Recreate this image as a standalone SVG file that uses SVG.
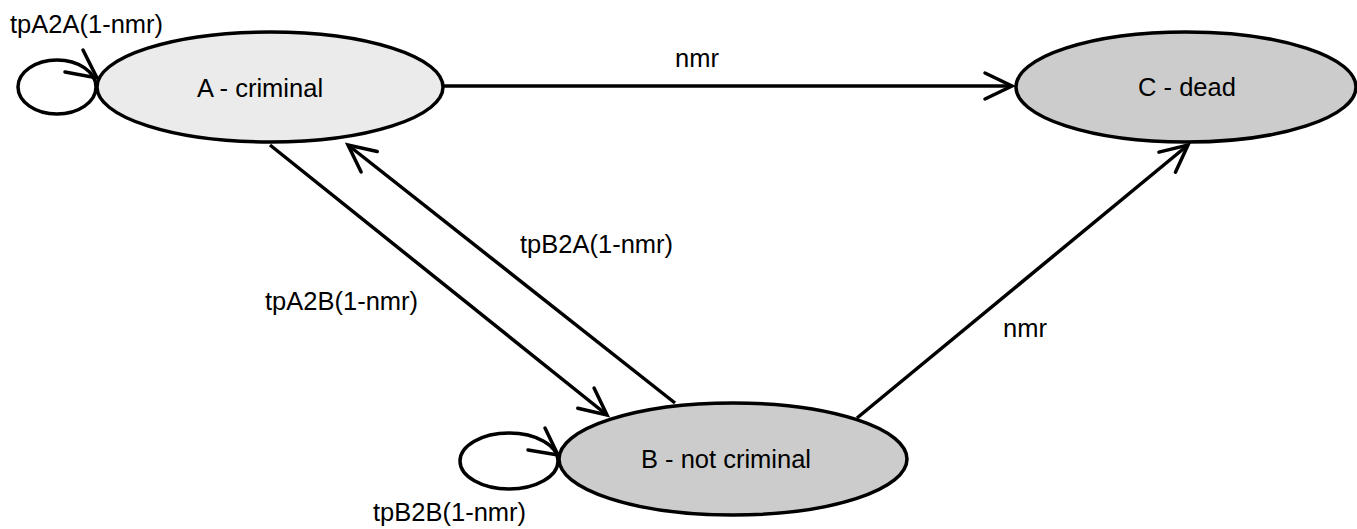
<svg xmlns="http://www.w3.org/2000/svg" width="1357" height="529" viewBox="0 0 1357 529">
<style>
  .node { stroke: #000; stroke-width: 3.5; }
  .edge { stroke: #000; stroke-width: 3.5; fill: none; }
  text { font-family: "Liberation Sans", Arial, sans-serif; font-size: 25.5px; fill: #000; }
</style>
<defs>
  <marker id="arrow" markerUnits="userSpaceOnUse" viewBox="-32 -16 36 32" refX="0" refY="0" markerWidth="36" markerHeight="32" orient="auto" overflow="visible">
    <path d="M-27,-13 L0,0 L-27,13" fill="none" stroke="#000" stroke-width="3.5" stroke-linecap="round" stroke-linejoin="miter"/>
  </marker>
</defs>
<rect width="1357" height="529" fill="#fff"/>
<g id="connectors">
  <g id="loopA">
    <ellipse class="edge" cx="57" cy="87" rx="39" ry="27"/>
    <polyline class="edge" points="83,50 97,78 65,72" stroke-linecap="round"/>
    <text x="10" y="33">tpA2A(1-nmr)</text>
  </g>
  <g id="loopB">
    <ellipse class="edge" cx="509" cy="461" rx="49" ry="28"/>
    <polyline class="edge" points="545,428 558,455 528,450" stroke-linecap="round"/>
    <text x="373" y="521">tpB2B(1-nmr)</text>
  </g>
  <g id="AtoC">
    <line class="edge" x1="443" y1="86" x2="1012" y2="86" marker-end="url(#arrow)"/>
    <text x="675" y="67">nmr</text>
  </g>
  <g id="AtoB">
    <line class="edge" x1="270" y1="145" x2="607" y2="415" marker-end="url(#arrow)"/>
    <text x="265" y="310">tpA2B(1-nmr)</text>
  </g>
  <g id="BtoA">
    <line class="edge" x1="675" y1="403" x2="348" y2="145" marker-end="url(#arrow)"/>
    <text x="520" y="253">tpB2A(1-nmr)</text>
  </g>
  <g id="BtoC">
    <line class="edge" x1="857" y1="418" x2="1188" y2="145" marker-end="url(#arrow)"/>
    <text x="1003" y="337">nmr</text>
  </g>
</g>
<g id="nodeA">
  <ellipse class="node" cx="270" cy="87" rx="173" ry="55" fill="#ebebeb"/>
  <text x="260" y="97" text-anchor="middle">A - criminal</text>
</g>
<g id="nodeC">
  <ellipse class="node" cx="1186" cy="87" rx="170" ry="55" fill="#cccccc"/>
  <text x="1187" y="96" text-anchor="middle">C - dead</text>
</g>
<g id="nodeB">
  <ellipse class="node" cx="733" cy="459" rx="174" ry="56" fill="#cccccc"/>
  <text x="726" y="468" text-anchor="middle">B - not criminal</text>
</g>
</svg>
